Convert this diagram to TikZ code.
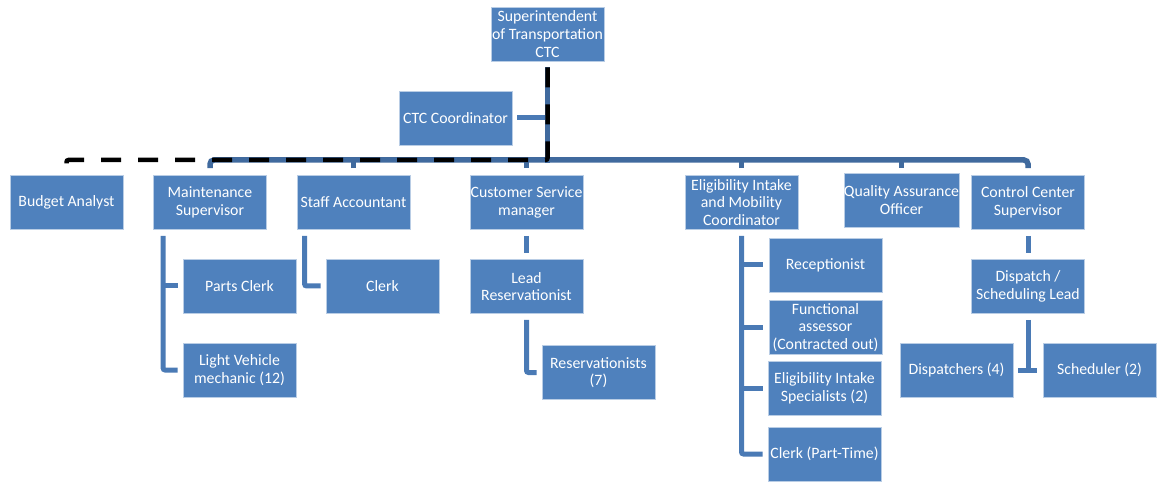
\documentclass[tikz,border=0pt]{standalone}
\usepackage{fontspec}
\setmainfont{Carlito}
\usetikzlibrary{calc}
\definecolor{boxfill}{RGB}{79,129,189}
\definecolor{boxedge}{RGB}{185,205,229}
\definecolor{busc}{RGB}{64,106,158}
\definecolor{connc}{RGB}{74,122,181}
\tikzset{
  orgbox/.style={draw=boxedge, line width=0.8pt, fill=boxfill, text=white,
    minimum width=113pt, minimum height=54pt, inner sep=0pt, align=center,
    font=\fontsize{15.8}{17.6}\selectfont},
  bus/.style={draw=busc, line width=5.5pt},
  conn/.style={draw=connc, line width=5pt, rounded corners=2pt},
  dashline/.style={draw=black, line width=4.5pt, dash pattern=on 20pt off 17pt, rounded corners=2pt}
}
\begin{document}
\begin{tikzpicture}[x=1pt,y=-1pt]
\useasboundingbox (0,0) rectangle (1159,486);
% top
\node[orgbox] (sup) at (547.5,34) {Superintendent\\of Transportation\\CTC};
\node[orgbox] (ctc) at (455.5,118) {CTC Coordinator};
% level 2
\node[orgbox] (ba) at (66.5,202.5) {Budget Analyst};
\node[orgbox] (ms) at (210,202.5) {Maintenance\\Supervisor};
\node[orgbox] (sa) at (353.5,202.5) {Staff Accountant};
\node[orgbox] (csm) at (526.5,202.5) {Customer Service\\manager};
\node[orgbox] (eim) at (741.5,202.5) {Eligibility Intake\\and Mobility\\Coordinator};
\node[orgbox] (qao) at (901.5,200) {Quality Assurance\\Officer};
\node[orgbox] (ccs) at (1028,202.5) {Control Center\\Supervisor};
% level 3
\node[orgbox] (pc) at (239.5,286) {Parts Clerk};
\node[orgbox] (lvm) at (239.5,370) {Light Vehicle\\mechanic (12)};
\node[orgbox] (clk) at (382.5,286) {Clerk};
\node[orgbox] (lr) at (526.5,286.5) {Lead\\Reservationist};
\node[orgbox] (res) at (598.5,372.5) {Reservationists\\(7)};
\node[orgbox] (rec) at (825.5,265) {Receptionist};
\node[orgbox] (fa) at (825.5,327.5) {Functional\\assessor\\(Contracted out)};
\node[orgbox] (eis) at (824.5,388.5) {Eligibility Intake\\Specialists (2)};
\node[orgbox] (cpt) at (824.5,454) {Clerk (Part-Time)};
\node[orgbox] (dsl) at (1028,286.5) {Dispatch /\\Scheduling Lead};
\node[orgbox] (disp) at (956.5,370) {Dispatchers (4)};
\node[orgbox] (sch) at (1099.5,370) {Scheduler (2)};
% junction on the bus
\coordinate (j) at (547.5,160);
% bus lines
\draw[bus, rounded corners=4pt] ([yshift=7pt]ms.north) |- (j) -| ([yshift=7pt]ccs.north);
\draw[bus] ([yshift=7pt]sa.north) -- (sa.north |- j);
\draw[bus] ([yshift=7pt]csm.north) -- (csm.north |- j);
\draw[bus] ([yshift=7pt]eim.north) -- (eim.north |- j);
\draw[bus] ([yshift=5pt]qao.north) -- (qao.north |- j);
\draw[bus] ([yshift=-6pt]sup.south) -- ([yshift=-2.75pt]j);
\draw[conn] ([xshift=5pt]ctc.east) -- (ctc.east -| j);
% dashed line to budget analyst
\draw[dashline] ([yshift=-6pt]sup.south) |- (ba.north |- j) -- (ba.north);
% maintenance children
\draw[conn] ([xshift=10pt,yshift=-6pt]ms.south west) |- ([xshift=-5pt]lvm.west);
\draw[conn] ([xshift=10pt]ms.south west |- pc.west) -- ([xshift=-5pt]pc.west);
% staff accountant child
\draw[conn] ([xshift=8pt,yshift=-6pt]sa.south west) |- ([xshift=-5pt]clk.west);
% customer service chain
\draw[conn] ([yshift=-6pt]csm.south) -- ([yshift=6pt]lr.north);
\draw[conn] ([yshift=-6pt]lr.south) |- ([xshift=-5pt]res.west);
% eligibility children
\draw[conn] ([yshift=-6pt]eim.south) |- ([xshift=-5pt]cpt.west);
\draw[conn] (eim.south |- rec.west) -- ([xshift=-6pt]rec.west);
\draw[conn] (eim.south |- fa.west) -- ([xshift=-6pt]fa.west);
\draw[conn] (eim.south |- eis.west) -- ([xshift=-5pt]eis.west);
% control center chain
\draw[conn] ([yshift=-6pt]ccs.south) -- ([yshift=6pt]dsl.north);
\draw[conn, rounded corners=0pt] ([yshift=-6pt]dsl.south) -- (dsl.south |- disp.east);
\draw[conn, rounded corners=0pt] ([xshift=5pt]disp.east) -- ([xshift=-6pt]sch.west);
\end{tikzpicture}
\end{document}
